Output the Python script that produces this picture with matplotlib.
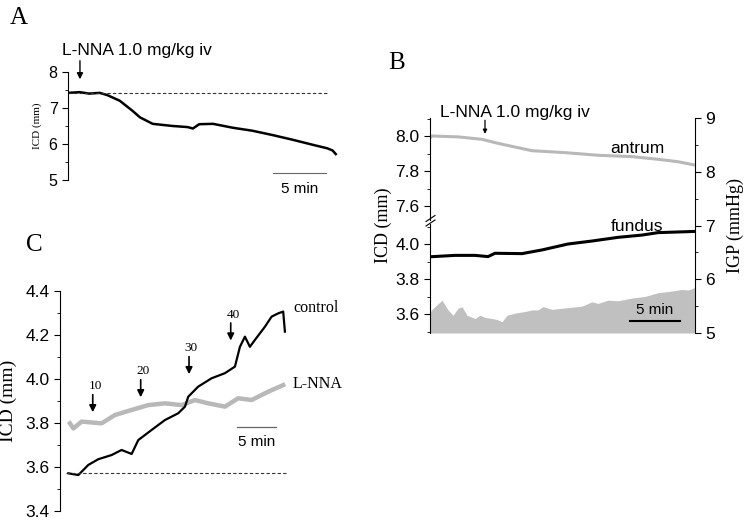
import numpy as np
import matplotlib.pyplot as plt
from matplotlib.ticker import MultipleLocator

sans = 'Liberation Sans'
serif = 'Liberation Serif'
plt.rcParams['font.family'] = sans

# ---- panel A : ICD after L-NNA (min, mm)
a_time = [0, 1.1, 2.0, 3.0, 3.7, 4.9, 6.1, 6.8, 8.0, 9.9, 11.3, 11.8, 12.4,
          13.7, 15.6, 17.4, 19.3, 21.2, 23.1, 24.5, 25.0, 25.3]
a_icd = [7.42, 7.44, 7.40, 7.42, 7.36, 7.20, 6.92, 6.74, 6.56, 6.50, 6.47, 6.43,
         6.55, 6.56, 6.45, 6.37, 6.25, 6.12, 5.98, 5.88, 5.82, 5.72]
a_baseline = 7.42
a_ticks = [5, 6, 7, 8]

# ---- panel B : antrum / fundus ICD (mm) and IGP (mmHg)
b_antrum_t = [0, 0.2, 2.8, 5.2, 6.8, 10.2, 13.5, 16.8, 20.2, 22.8, 24.8, 26.5]
b_antrum = [7.99, 8.0, 7.995, 7.981, 7.958, 7.916, 7.905, 7.89, 7.882, 7.867, 7.853, 7.834]
b_fundus_t = [0, 2.5, 4.5, 5.8, 6.5, 9.2, 11.2, 13.8, 16.2, 18.8, 21.2, 22.8, 25.5, 26.5]
b_fundus = [3.927, 3.935, 3.935, 3.928, 3.947, 3.945, 3.966, 4.0, 4.017, 4.038,
            4.051, 4.065, 4.07, 4.072]
b_igp_t = [0, 0.5, 1.2, 1.8, 2.3, 2.8, 3.2, 3.7, 4.5, 5.0, 5.5, 6.2, 6.7, 7.2, 7.7,
           8.5, 9.5, 10.2, 10.8, 11.3, 12.2, 13.2, 14.2, 15.2, 16.2, 16.8, 17.8,
           18.8, 20.2, 21.5, 22.8, 23.8, 25.2, 25.8, 26.3, 26.5]
b_igp = [5.40, 5.49, 5.61, 5.43, 5.33, 5.46, 5.49, 5.33, 5.27, 5.33, 5.29, 5.27,
         5.25, 5.21, 5.33, 5.37, 5.40, 5.43, 5.43, 5.49, 5.44, 5.46, 5.48, 5.50,
         5.58, 5.55, 5.61, 5.60, 5.65, 5.68, 5.75, 5.77, 5.81, 5.80, 5.83, 5.86]
b_icd_ticks_top = [7.6, 7.8, 8.0]
b_icd_ticks_bot = [3.6, 3.8, 4.0]
b_igp_ticks = [5, 6, 7, 8, 9]

# ---- panel C : cumulative doses, control vs L-NNA
c_control_t = [1.07, 2.35, 3.63, 4.91, 6.62, 7.9, 9.19, 10.04, 11.75, 13.46, 15.17,
               16.03, 16.45, 17.73, 19.45, 21.15, 22.44, 23.08, 23.72, 24.36, 25.0,
               26.28, 27.14, 27.99, 28.63, 28.85]
c_control = [3.57, 3.562, 3.608, 3.634, 3.653, 3.676, 3.658, 3.721, 3.767, 3.812,
             3.843, 3.873, 3.918, 3.964, 4.002, 4.025, 4.055, 4.145, 4.191, 4.145,
             4.176, 4.236, 4.282, 4.297, 4.305, 4.214]
c_lnna_t = [1.28, 1.71, 2.78, 5.34, 7.05, 9.19, 11.32, 13.46, 15.6, 17.31, 19.01,
            21.15, 22.86, 24.58, 26.71, 28.63]
c_lnna = [3.797, 3.774, 3.805, 3.797, 3.835, 3.858, 3.88, 3.888, 3.88, 3.903, 3.888,
          3.873, 3.911, 3.903, 3.941, 3.971]
c_doses = ['10', '20', '30', '40']
c_dose_t = [4.2, 10.35, 16.55, 21.9]
c_dose_icd = [3.835, 3.903, 4.008, 4.161]
c_baseline = 3.57
c_ticks = [3.4, 3.6, 3.8, 4.0, 4.2, 4.4]

fig = plt.figure(figsize=(7.5, 5.24), dpi=100)


def px(l, t, r, b):
    # axes rect from pixel box of the 750x524 figure
    return [l / 750, 1 - b / 524, (r - l) / 750, (b - t) / 524]


def left_only(ax):
    for s in ['top', 'right', 'bottom']:
        ax.spines[s].set_visible(False)
    ax.set_xticks([])
    ax.patch.set_alpha(0)


# ---------------- A
axA = fig.add_axes(px(68, 72, 340, 180))
left_only(axA)
axA.plot(a_time, a_icd, color='black', lw=1.8)
axA.plot([0, 24.6], [a_baseline, a_baseline], color='#333333', lw=0.8, ls=(0, (3, 2)))
axA.set_xlim(0, 25.7)
axA.set_ylim(5, 8)
axA.set_yticks(a_ticks)
axA.yaxis.set_minor_locator(MultipleLocator(0.5))
axA.tick_params(axis='y', labelsize=11.5, length=4, width=0.8)
axA.tick_params(axis='y', which='minor', length=2, width=0.6)
axA.set_ylabel('ICD (mm)', family=serif, fontsize=8, labelpad=5)
axA.plot([19.4, 24.4], [5.19, 5.19], color='#666666', lw=0.8, clip_on=False)
axA.text(21.9, 4.75, '5 min', ha='center', va='center', fontsize=11, clip_on=False)
axA.annotate('', xy=(1.13, 7.72), xytext=(1.13, 8.39),
             arrowprops=dict(arrowstyle='-|>', color='black', lw=1, mutation_scale=9),
             annotation_clip=False)
fig.text(62 / 750, 1 - 50 / 524, 'L-NNA 1.0 mg/kg iv', fontsize=12.5, va='center')
fig.text(10 / 750, 1 - 18 / 524, 'A', family=serif, fontsize=18, va='center')

# ---------------- B
axB = fig.add_axes(px(430, 118, 695, 333))
axB.fill_between(b_igp_t, 5, b_igp, color='#c0c0c0', lw=0)
axB.set_xlim(0, 26.5)
axB.set_ylim(5, 9)
for s in ['top', 'left', 'bottom']:
    axB.spines[s].set_visible(False)
axB.set_xticks([])
axB.yaxis.tick_right()
axB.yaxis.set_label_position('right')
axB.set_yticks(b_igp_ticks)
axB.yaxis.set_minor_locator(MultipleLocator(0.5))
axB.tick_params(axis='y', labelsize=12.5, length=4, width=0.8)
axB.tick_params(axis='y', which='minor', length=2, width=0.6)
axB.set_ylabel('IGP (mmHg)', family=serif, fontsize=13, rotation=90, labelpad=8)
axB.plot([20, 25], [5.23, 5.23], color='black', lw=1.5)
axB.text(22.5, 5.42, '5 min', ha='center', va='center', fontsize=11)

axBt = fig.add_axes(px(430, 118, 695, 220))
left_only(axBt)
axBt.plot(b_antrum_t, b_antrum, color='#b8b8b8', lw=2.2)
axBt.set_xlim(0, 26.5)
axBt.set_ylim(8.0 - (220 - 136) / 175, 8.0 + 18 / 175)
axBt.set_yticks(b_icd_ticks_top)
axBt.set_yticklabels(['%.1f' % v for v in b_icd_ticks_top])
axBt.yaxis.set_minor_locator(MultipleLocator(0.1))
axBt.tick_params(axis='y', labelsize=12.5, length=4, width=0.8)
axBt.tick_params(axis='y', which='minor', length=2, width=0.6)
axBt.text(20.7, 7.93, 'antrum', ha='center', va='center', fontsize=12.5)
axBt.annotate('', xy=(5.5, 8.012), xytext=(5.5, 8.09),
              arrowprops=dict(arrowstyle='-|>', color='black', lw=0.9, mutation_scale=6,
                              shrinkA=0, shrinkB=0),
              annotation_clip=False)

axBb = fig.add_axes(px(430, 224, 695, 333))
left_only(axBb)
axBb.plot(b_fundus_t, b_fundus, color='black', lw=2.2)
axBb.set_xlim(0, 26.5)
axBb.set_ylim(3.6 - 19 / 175, 4.0 + 20 / 175)
axBb.set_yticks(b_icd_ticks_bot)
axBb.set_yticklabels(['%.1f' % v for v in b_icd_ticks_bot])
axBb.yaxis.set_minor_locator(MultipleLocator(0.1))
axBb.tick_params(axis='y', labelsize=12.5, length=4, width=0.8)
axBb.tick_params(axis='y', which='minor', length=2, width=0.6)
axBb.text(20.7, 4.1, 'fundus', ha='center', va='center', fontsize=12.5, clip_on=False)
for yb in (218.5, 223):
    fig.add_artist(plt.Line2D([426 / 750, 435 / 750],
                              [1 - (yb + 3) / 524, 1 - (yb - 3) / 524],
                              color='black', lw=0.8))
fig.text(383 / 750, 1 - 225 / 524, 'ICD (mm)', family=serif, fontsize=13,
         rotation=90, ha='center', va='center')
fig.text(440 / 750, 1 - 112 / 524, 'L-NNA 1.0 mg/kg iv', fontsize=12.5, va='center')
fig.text(388 / 750, 1 - 63 / 524, 'B', family=serif, fontsize=18, va='center')

# ---------------- C
axC = fig.add_axes(px(60, 290.7, 350, 510.7))
left_only(axC)
axC.plot(c_lnna_t, c_lnna, color='#b8b8b8', lw=3.2)
axC.plot(c_control_t, c_control, color='black', lw=1.6)
axC.plot([0.77, 29.2], [c_baseline, c_baseline], color='#333333', lw=0.8, ls=(0, (3, 2)))
axC.set_xlim(0, 37.2)
axC.set_ylim(3.4, 4.4)
axC.set_yticks(c_ticks)
axC.set_yticklabels(['%.1f' % v for v in c_ticks])
axC.yaxis.set_minor_locator(MultipleLocator(0.1))
axC.tick_params(axis='y', labelsize=12.5, length=4, width=0.8)
axC.tick_params(axis='y', which='minor', length=2, width=0.6)
axC.set_ylabel('ICD (mm)', family=serif, fontsize=14, labelpad=6)
for lab, t, v in zip(c_doses, c_dose_t, c_dose_icd):
    axC.annotate('', xy=(t, v), xytext=(t, v + 0.105),
                 arrowprops=dict(arrowstyle='-|>', color='black', lw=1.2, mutation_scale=10))
    axC.text(t + 0.3, v + 0.13, lab, family=serif, fontsize=9.5, ha='center', va='center')
axC.plot([22.7, 27.7], [3.779, 3.779], color='#666666', lw=0.9)
axC.text(25.2, 3.714, '5 min', ha='center', va='center', fontsize=11)
axC.text(29.9, 4.32, 'control', family=serif, fontsize=11.5, va='center')
axC.text(29.9, 3.976, 'L-NNA', family=serif, fontsize=11.5, va='center')
fig.text(26 / 750, 1 - 245 / 524, 'C', family=serif, fontsize=18, va='center')

fig.savefig('out.png', dpi=100)
